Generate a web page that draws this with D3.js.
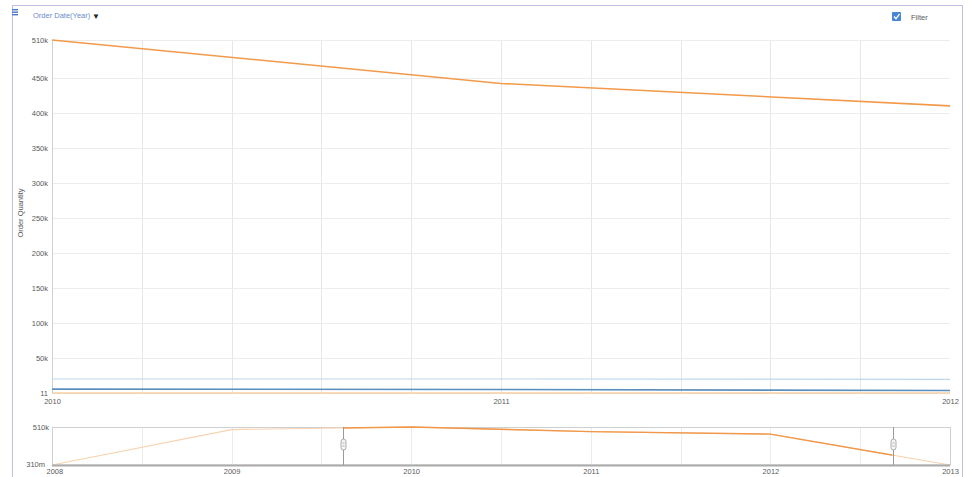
<!DOCTYPE html>
<html><head><meta charset="utf-8">
<script src="https://cdn.jsdelivr.net/npm/d3@7"></script>
<style>
html,body{margin:0;padding:0;background:#fff;}
svg{display:block;font-family:"Liberation Sans",Arial,sans-serif;}
</style></head>
<body><svg id="c" width="970" height="477"></svg>
<script>
// ---- data ----
const years = [2010, 2011, 2012];
const orderQuantity = [504000, 442000, 410000];
const seriesLightBlue = [20000, 20000, 19500];
const seriesDarkBlue = [5600, 5000, 3500];
const seriesLowOrange = [150, 150, 150];
const yTickValues = [11, 50000, 100000, 150000, 200000, 250000, 300000, 350000, 400000, 450000, 504000];
const yTickLabels = ["11", "50k", "100k", "150k", "200k", "250k", "300k", "350k", "400k", "450k", "510k"];
const xTickYears = [2010, 2011, 2012];
const navYears = [2008, 2009, 2010, 2011, 2012, 2013];
const navValues = [0.31, 470000, 504000, 442000, 410000, 0.31];
const navTickLabels = ["510k", "310m"];
const navWindow = [2009.62, 2012.68];

const svg = d3.select("#c");
const FONT = "Liberation Sans, Arial, sans-serif";
const LBL = "#5a5a5a";

// frame
svg.append("rect").attr("x", 12.5).attr("y", 5.5).attr("width", 950).attr("height", 480)
  .attr("fill", "none").attr("stroke", "#c3bde6").attr("stroke-width", 1);

// hamburger icon
[9, 11.5, 14].forEach(yy => svg.append("rect").attr("x", 12).attr("y", yy).attr("width", 6).attr("height", 1.4).attr("fill", "#4a78c8"));

svg.append("text").attr("x", 33).attr("y", 18).attr("font-size", 7.5).attr("fill", "#6a8ccc").text("Order Date(Year)");
svg.append("text").attr("x", 92).attr("y", 18.5).attr("font-size", 8).attr("fill", "#222").text("\u25BC");

// filter checkbox
svg.append("rect").attr("x", 892).attr("y", 12).attr("width", 9).attr("height", 9).attr("rx", 1).attr("fill", "#4a86d8");
svg.append("path").attr("d", "M894,16.5 L896,18.8 L899.5,14").attr("fill", "none").attr("stroke", "#fff").attr("stroke-width", 1.3);
svg.append("text").attr("x", 911).attr("y", 20).attr("font-size", 7.5).attr("fill", LBL).text("Filter");

// ---- main chart ----
const x = d3.scaleLinear().domain([2010, 2012]).range([52, 950]);
const y = d3.scaleLinear().domain([11, 504000]).range([393, 40]);

const g = svg.append("g");
g.selectAll("line.vg").data(d3.range(1, 10).map(i => 2010 + i * 0.2)).join("line")
  .attr("x1", d => Math.round(x(d)) + 0.5).attr("x2", d => Math.round(x(d)) + 0.5).attr("y1", 40).attr("y2", 393)
  .attr("stroke", "#e6e6e6").attr("stroke-width", 1);
g.selectAll("line.hg").data(yTickValues).join("line")
  .attr("x1", 52).attr("x2", 950).attr("y1", d => Math.round(y(d)) + 0.5).attr("y2", d => Math.round(y(d)) + 0.5)
  .attr("stroke", "#ececec").attr("stroke-width", 1);

const yAxis = d3.axisLeft(y).tickValues(yTickValues).tickFormat((d, i) => yTickLabels[i]).tickSize(0).tickPadding(4);
const ya = svg.append("g").attr("transform", "translate(52,0)").call(yAxis);
ya.select(".domain").attr("stroke", "#d0d0d0");
ya.selectAll("text").attr("font-size", 7.5).attr("fill", LBL).attr("font-family", FONT);

const xAxis = d3.axisBottom(x).tickValues(xTickYears).tickFormat(d3.format("d")).tickSize(0).tickPadding(3);
const xa = svg.append("g").attr("transform", "translate(0,396)").call(xAxis);
xa.select(".domain").remove();
xa.selectAll("text").attr("font-size", 7.5).attr("fill", LBL).attr("font-family", FONT);

svg.append("text").attr("transform", "translate(23,213) rotate(-90)").attr("text-anchor", "middle")
  .attr("font-size", 7.5).attr("fill", LBL).text("Order Quantity");

const line = d3.line().x((d, i) => x(years[i])).y(d => y(d));
svg.append("path").datum(seriesLowOrange).attr("d", line).attr("fill", "none").attr("stroke", "#f7cfa6").attr("stroke-width", 1.5);
svg.append("path").datum(seriesLightBlue).attr("d", line).attr("fill", "none").attr("stroke", "#bcd7ee").attr("stroke-width", 1.2);
svg.append("path").datum(seriesDarkBlue).attr("d", line).attr("fill", "none").attr("stroke", "#5a8fbc").attr("stroke-width", 1.6);
svg.append("path").datum(orderQuantity).attr("d", line).attr("fill", "none").attr("stroke", "#f29a4c").attr("stroke-width", 1.6);

// ---- navigator ----
const nx = d3.scaleLinear().domain([2008, 2013]).range([52, 950]);
const ny = d3.scaleLinear().domain([0.31, 504000]).range([465, 427]);
const ng = svg.append("g");
ng.append("rect").attr("x", 52.5).attr("y", 427.5).attr("width", 898).attr("height", 37.5)
  .attr("fill", "#fff").attr("stroke", "#cfcfcf").attr("stroke-width", 1);
ng.selectAll("line.nvg").data(d3.range(1, 10).map(i => 2008 + i * 0.5)).join("line")
  .attr("x1", d => Math.round(nx(d)) + 0.5).attr("x2", d => Math.round(nx(d)) + 0.5).attr("y1", 428).attr("y2", 465)
  .attr("stroke", "#ececec");
const nline = d3.line().x((d, i) => nx(navYears[i])).y(d => ny(d));
ng.append("path").datum(navValues).attr("d", nline).attr("fill", "none").attr("stroke", "#f8d3b0").attr("stroke-width", 1.2);
svg.append("clipPath").attr("id", "win").append("rect")
  .attr("x", nx(navWindow[0])).attr("y", 420).attr("width", nx(navWindow[1]) - nx(navWindow[0])).attr("height", 50);
ng.append("path").datum(navValues).attr("d", nline).attr("fill", "none").attr("stroke", "#f0974a").attr("stroke-width", 1.4).attr("clip-path", "url(#win)");
ng.append("line").attr("x1", 52).attr("x2", 950).attr("y1", 465.5).attr("y2", 465.5).attr("stroke", "#aaa").attr("stroke-width", 2);
navWindow.forEach(w => {
  const px = Math.round(nx(w)) + 0.5;
  ng.append("line").attr("x1", px).attr("x2", px).attr("y1", 427).attr("y2", 465).attr("stroke", "#999");
  ng.append("rect").attr("x", px - 2.5).attr("y", 439).attr("width", 5).attr("height", 11).attr("rx", 2.5)
    .attr("fill", "#f4f4f4").attr("stroke", "#999").attr("stroke-width", 0.8);
  [443, 446].forEach(yy => ng.append("line").attr("x1", px - 1.2).attr("x2", px + 1.2).attr("y1", yy).attr("y2", yy).attr("stroke", "#999").attr("stroke-width", 0.6));
});
svg.append("text").attr("x", 49).attr("y", ny(504000) + 2.5).attr("text-anchor", "end").attr("font-size", 7.5).attr("fill", LBL).text(navTickLabels[0]);
svg.append("text").attr("x", 45).attr("y", ny(0.31) + 1.5).attr("text-anchor", "end").attr("font-size", 7.5).attr("fill", LBL).text(navTickLabels[1]);
const nxa = d3.axisBottom(nx).tickValues(navYears).tickFormat(d3.format("d")).tickSize(0).tickPadding(3);
const nxg = svg.append("g").attr("transform", "translate(0,466)").call(nxa);
nxg.select(".domain").remove();
nxg.selectAll("text").attr("font-size", 7.5).attr("fill", LBL).attr("font-family", FONT)
  .attr("text-anchor", (d, i) => i === 0 ? "start" : "middle").attr("dx", (d, i) => i === 0 ? -6 : 0);
</script></body></html>
